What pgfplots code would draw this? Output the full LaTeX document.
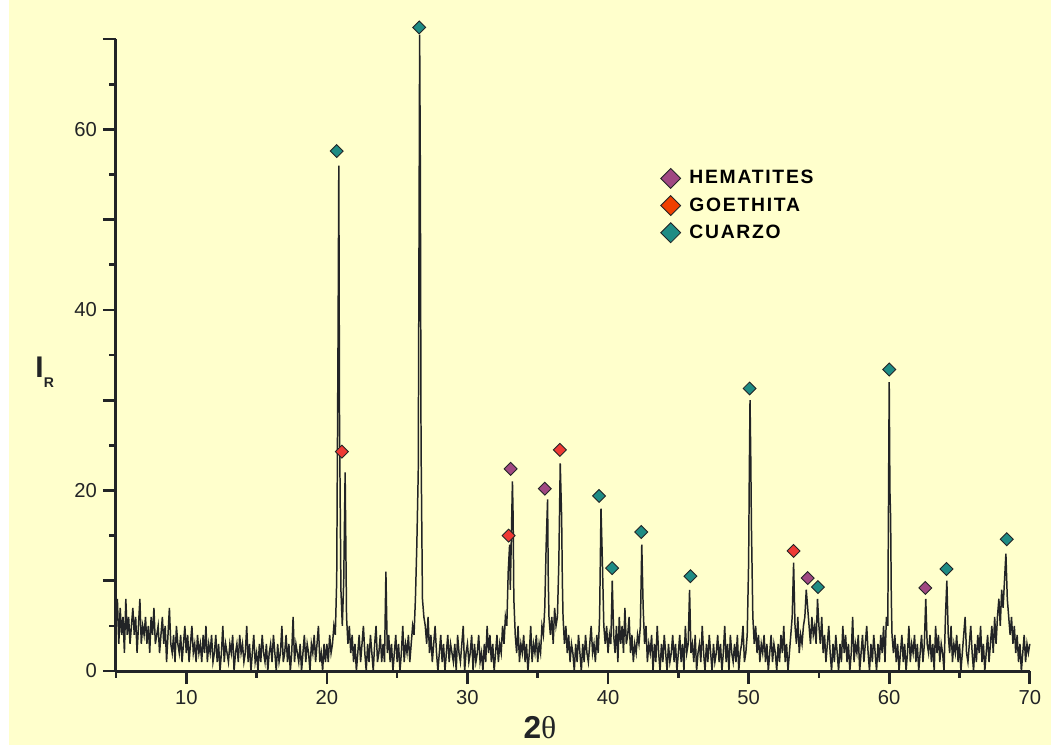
\documentclass[border=0pt]{standalone}
\usepackage{pgfplots}
\pgfplotsset{compat=1.18}
\usepackage{fontspec}
\setmainfont{Liberation Sans}
\newfontfamily\symf{Liberation Serif}
\definecolor{bgyel}{RGB}{255,255,204}
\definecolor{hem}{RGB}{160,72,130}
\definecolor{goe}{RGB}{238,58,52}
\definecolor{goeleg}{RGB}{240,64,0}
\definecolor{cua}{RGB}{30,140,132}
\definecolor{ink}{RGB}{34,36,38}

\begin{document}
\begin{tikzpicture}[x=0.02cm,y=0.02cm]
\fill[white] (0,0) rectangle (1051,749);
\fill[bgyel] (9,4) rectangle (1051,749);
\begin{axis}[
  at={(2.32cm,1.56cm)}, anchor=south west,
  scale only axis, width=18.28cm, height=12.64cm,
  xmin=5, xmax=70, ymin=0, ymax=70,
  axis x line=bottom, axis y line=left,
  axis line style={-, line width=1.7pt, ink},
  xtick={10,20,...,70}, minor xtick={5,15,...,65},
  ytick={0,10,...,70}, yticklabels={0,,20,,40,,60,},
  minor ytick={5,15,...,65},
  tick align=outside,
  major tick length=0.26cm, minor tick length=0.13cm,
  tick style={ink, line width=1.5pt},
  /pgf/number format/assume math mode=true,
  ticklabel style={font=\fontsize{11.5}{13}\selectfont, text=ink},
  xlabel={\textbf{2}{\symf θ}},
  xlabel style={at={(axis description cs:0.464,-0.09)}, anchor=center,
    font=\fontsize{18}{20}\selectfont, text=ink},
  ylabel={\textbf{I\raisebox{-0.6ex}{\fontsize{8}{8}\selectfont R}}},
  ylabel style={rotate=-90, at={(axis description cs:-0.078,0.473)}, anchor=center,
    font=\fontsize{17}{20}\selectfont, text=ink},
  clip=false,
  legend style={draw=none, fill=none, at={(axis description cs:0.59,0.804)},
    anchor=north west, row sep=0.08cm,
    font=\fontsize{11}{13}\selectfont\bfseries\addfontfeature{LetterSpace=9}},
  legend cell align=left,
]
\addplot[ink, line width=0.85pt, forget plot] coordinates {
(5.0,5)(5.1,8)(5.2,3)(5.3,7)(5.4,4)(5.5,6)(5.6,2)(5.7,8)(5.8,4)(5.9,6)
(6.0,3)(6.1,5)(6.2,7)(6.3,4)(6.4,6)(6.5,2)(6.6,5)(6.7,8)(6.8,3)(6.9,5)
(7.0,4)(7.1,6)(7.2,3)(7.3,5)(7.4,2)(7.5,6)(7.6,4)(7.7,7)(7.8,3)(7.9,4)
(8.0,5)(8.1,2)(8.2,4)(8.3,6)(8.4,3)(8.5,5)(8.6,1)(8.7,4)(8.8,7)(8.9,3)
(9.0,2)(9.1,4)(9.2,1)(9.3,5)(9.4,3)(9.5,2)(9.6,4)(9.7,1)(9.8,3)(9.9,5)
(10.0,2)(10.1,4)(10.2,1)(10.3,3)(10.4,5)(10.5,2)(10.6,3)(10.7,1)(10.8,4)(10.9,2)
(11.0,3)(11.1,1)(11.2,4)(11.3,2)(11.4,5)(11.5,1)(11.6,3)(11.7,2)(11.8,4)(11.9,1)
(12.0,2)(12.1,4)(12.2,1)(12.3,3)(12.4,0)(12.5,2)(12.6,5)(12.7,1)(12.8,3)(12.9,2)
(13.0,1)(13.1,3)(13.2,2)(13.3,4)(13.4,0)(13.5,2)(13.6,3)(13.7,1)(13.8,4)(13.9,2)
(14.0,3)(14.1,1)(14.2,2)(14.3,5)(14.4,1)(14.5,3)(14.6,0)(14.7,2)(14.8,4)(14.9,1)
(15.0,2)(15.1,0)(15.2,3)(15.3,1)(15.4,4)(15.5,2)(15.6,1)(15.7,3)(15.8,0)(15.9,2)
(16.0,3)(16.1,1)(16.2,4)(16.3,2)(16.4,0)(16.5,3)(16.6,1)(16.7,2)(16.8,5)(16.9,1)
(17.0,2)(17.1,4)(17.2,1)(17.3,3)(17.4,0)(17.5,2)(17.6,6)(17.7,1)(17.8,3)(17.9,2)
(18.0,1)(18.1,3)(18.2,0)(18.3,2)(18.4,4)(18.5,1)(18.6,3)(18.7,2)(18.8,0)(18.9,3)
(19.0,2)(19.1,4)(19.2,1)(19.3,3)(19.4,5)(19.5,1)(19.6,2)(19.7,0)(19.8,3)(19.9,1)
(20.0,3)(20.1,1)(20.2,4)(20.3,2)(20.4,3)(20.5,5)(20.6,4)(20.7,10)(20.8,38)(20.85,56)(20.9,28)
(21.0,9)(21.1,5)(21.2,10)(21.3,22)(21.35,14)(21.4,6)(21.5,3)(21.6,5)(21.7,2)(21.8,4)(21.9,1)
(22.0,3)(22.1,0)(22.2,2)(22.3,4)(22.4,1)(22.5,3)(22.6,5)(22.7,2)(22.8,0)(22.9,3)
(23.0,1)(23.1,4)(23.2,2)(23.3,0)(23.4,3)(23.5,5)(23.6,1)(23.7,2)(23.8,4)(23.9,1)
(24.0,3)(24.1,1)(24.2,11)(24.3,2)(24.4,4)(24.5,1)(24.6,3)(24.7,0)(24.8,2)(24.9,4)
(25.0,1)(25.1,3)(25.2,0)(25.3,2)(25.4,5)(25.5,1)(25.6,3)(25.7,2)(25.8,4)(25.9,1)
(26.0,3)(26.1,5)(26.2,4)(26.3,8)(26.4,14)(26.5,22)(26.55,45)(26.6,70.5)(26.65,55)(26.7,25)(26.8,8)(26.9,6)
(27.0,5)(27.1,3)(27.2,6)(27.3,2)(27.4,4)(27.5,1)(27.6,3)(27.7,5)(27.8,2)(27.9,0)
(28.0,2)(28.1,4)(28.2,1)(28.3,3)(28.4,0)(28.5,2)(28.6,4)(28.7,1)(28.8,3)(28.9,2)
(29.0,1)(29.1,3)(29.2,0)(29.3,4)(29.4,2)(29.5,1)(29.6,3)(29.7,5)(29.8,0)(29.9,2)
(30.0,3)(30.1,1)(30.2,2)(30.3,4)(30.4,0)(30.5,3)(30.6,1)(30.7,2)(30.8,4)(30.9,1)
(31.0,2)(31.1,0)(31.2,3)(31.3,1)(31.4,5)(31.5,2)(31.6,4)(31.7,1)(31.8,3)(31.9,0)
(32.0,2)(32.1,4)(32.2,1)(32.3,3)(32.4,2)(32.5,5)(32.6,3)(32.7,6)(32.8,5)(32.9,11)
(33.0,14)(33.05,9)(33.1,13)(33.2,21)(33.25,17)(33.3,8)(33.4,4)(33.5,2)(33.6,5)(33.7,1)(33.8,3)(33.9,2)
(34.0,4)(34.1,1)(34.2,3)(34.3,0)(34.4,2)(34.5,5)(34.6,1)(34.7,3)(34.8,2)(34.9,4)
(35.0,1)(35.1,3)(35.2,2)(35.3,5)(35.4,4)(35.5,7)(35.6,14)(35.7,19)(35.75,10)(35.8,6)(35.9,4)
(36.0,6)(36.1,3)(36.2,7)(36.3,5)(36.4,6)(36.5,12)(36.6,23)(36.7,17)(36.75,10)(36.8,6)(36.9,3)
(37.0,5)(37.1,2)(37.2,4)(37.3,1)(37.4,3)(37.5,2)(37.6,0)(37.7,3)(37.8,1)(37.9,4)
(38.0,2)(38.1,0)(38.2,3)(38.3,1)(38.4,4)(38.5,2)(38.6,1)(38.7,3)(38.8,5)(38.9,2)
(39.0,3)(39.1,1)(39.2,4)(39.3,2)(39.4,6)(39.5,18)(39.6,12)(39.7,5)(39.8,3)(39.9,5)
(40.0,2)(40.1,4)(40.2,3)(40.3,10)(40.4,4)(40.5,2)(40.6,5)(40.7,1)(40.8,6)(40.9,3)
(41.0,5)(41.1,2)(41.2,7)(41.3,3)(41.4,4)(41.5,6)(41.6,2)(41.7,4)(41.8,1)(41.9,3)
(42.0,2)(42.1,4)(42.2,3)(42.3,5)(42.4,14)(42.5,7)(42.6,3)(42.7,5)(42.8,1)(42.9,3)
(43.0,2)(43.1,4)(43.2,0)(43.3,3)(43.4,1)(43.5,5)(43.6,2)(43.7,0)(43.8,3)(43.9,1)
(44.0,4)(44.1,2)(44.2,0)(44.3,3)(44.4,1)(44.5,2)(44.6,4)(44.7,1)(44.8,3)(44.9,0)
(45.0,2)(45.1,4)(45.2,1)(45.3,3)(45.4,0)(45.5,5)(45.6,2)(45.7,3)(45.8,9)(45.9,2)
(46.0,3)(46.1,1)(46.2,4)(46.3,0)(46.4,2)(46.5,3)(46.6,1)(46.7,5)(46.8,2)(46.9,0)
(47.0,3)(47.1,1)(47.2,4)(47.3,2)(47.4,0)(47.5,3)(47.6,1)(47.7,2)(47.8,4)(47.9,1)
(48.0,3)(48.1,0)(48.2,2)(48.3,5)(48.4,1)(48.5,3)(48.6,0)(48.7,4)(48.8,2)(48.9,1)
(49.0,3)(49.1,1)(49.2,4)(49.3,0)(49.4,2)(49.5,3)(49.6,5)(49.7,1)(49.8,2)(49.9,4)
(50.0,12)(50.05,22)(50.1,30)(50.15,24)(50.2,16)(50.3,6)(50.4,3)(50.5,5)(50.6,2)(50.7,4)(50.8,1)(50.9,3)
(51.0,2)(51.1,4)(51.2,1)(51.3,3)(51.4,0)(51.5,2)(51.6,4)(51.7,1)(51.8,3)(51.9,2)
(52.0,0)(52.1,3)(52.2,1)(52.3,4)(52.4,2)(52.5,5)(52.6,1)(52.7,3)(52.8,0)(52.9,2)
(53.0,4)(53.1,6)(53.2,12)(53.3,5)(53.4,3)(53.5,6)(53.6,2)(53.7,4)(53.8,3)(53.9,5)
(54.0,6)(54.1,9)(54.2,7)(54.3,5)(54.4,3)(54.5,6)(54.6,4)(54.7,5)(54.8,3)(54.9,8)
(55.0,5)(55.1,3)(55.2,6)(55.3,2)(55.4,4)(55.5,1)(55.6,3)(55.7,5)(55.8,2)(55.9,0)
(56.0,3)(56.1,1)(56.2,4)(56.3,2)(56.4,0)(56.5,3)(56.6,1)(56.7,5)(56.8,2)(56.9,4)
(57.0,1)(57.1,3)(57.2,0)(57.3,2)(57.4,6)(57.5,1)(57.6,3)(57.7,2)(57.8,4)(57.9,0)
(58.0,2)(58.1,4)(58.2,1)(58.3,3)(58.4,5)(58.5,2)(58.6,0)(58.7,3)(58.8,1)(58.9,4)
(59.0,2)(59.1,0)(59.2,3)(59.3,1)(59.4,4)(59.5,2)(59.6,5)(59.7,1)(59.8,6)(59.9,5)
(60.0,32)(60.05,20)(60.1,17)(60.15,8)(60.2,4)(60.3,2)(60.4,4)(60.5,1)(60.6,3)(60.7,0)(60.8,2)(60.9,4)
(61.0,1)(61.1,3)(61.2,0)(61.3,2)(61.4,5)(61.5,1)(61.6,3)(61.7,2)(61.8,4)(61.9,1)
(62.0,3)(62.1,0)(62.2,2)(62.3,4)(62.4,1)(62.5,3)(62.6,8)(62.7,3)(62.8,2)(62.9,4)
(63.0,1)(63.1,3)(63.2,0)(63.3,5)(63.4,2)(63.5,4)(63.6,1)(63.7,3)(63.8,2)(63.9,0)
(64.0,6)(64.1,10)(64.15,7)(64.2,4)(64.3,2)(64.4,5)(64.5,1)(64.6,3)(64.7,2)(64.8,4)(64.9,1)
(65.0,3)(65.1,0)(65.2,2)(65.3,4)(65.4,6)(65.5,2)(65.6,1)(65.7,3)(65.8,5)(65.9,2)
(66.0,0)(66.1,3)(66.2,1)(66.3,4)(66.4,2)(66.5,5)(66.6,1)(66.7,3)(66.8,0)(66.9,2)
(67.0,4)(67.1,1)(67.2,3)(67.3,5)(67.4,2)(67.5,6)(67.6,3)(67.7,6)(67.8,8)(67.9,5)
(68.0,9)(68.1,7)(68.2,10)(68.3,13)(68.4,8)(68.5,6)(68.6,4)(68.7,6)(68.8,3)(68.9,5)
(69.0,2)(69.1,4)(69.2,1)(69.3,3)(69.4,0)(69.5,2)(69.6,4)(69.7,1)(69.8,3)(69.9,2)
(70.0,3)
};
% cuarzo
\addplot[only marks, mark=square*, mark size=2.6pt,
  mark options={rotate=45, fill=cua, draw=ink, line width=0.5pt}, forget plot]
  coordinates {(20.7,57.6)(26.57,71.3)(39.36,19.4)(40.29,11.4)(42.36,15.4)
  (45.86,10.5)(50.07,31.3)(54.93,9.3)(60.0,33.4)(64.07,11.3)(68.36,14.6)};
% hematites
\addplot[only marks, mark=square*, mark size=2.6pt,
  mark options={rotate=45, fill=hem, draw=ink, line width=0.5pt}, forget plot]
  coordinates {(33.07,22.4)(35.5,20.2)(54.2,10.3)(62.57,9.2)};
% goethita
\addplot[only marks, mark=square*, mark size=2.6pt,
  mark options={rotate=45, fill=goe, draw=ink, line width=0.5pt}, forget plot]
  coordinates {(21.07,24.3)(32.93,15.0)(36.57,24.5)(53.2,13.3)};
\addlegendimage{only marks, mark=square*, mark size=4pt, mark options={rotate=45, fill=hem, draw=ink, line width=0.5pt}}
\addlegendentry{\hspace{3pt}HEMATITES}
\addlegendimage{only marks, mark=square*, mark size=4pt, mark options={rotate=45, fill=goeleg, draw=ink, line width=0.5pt}}
\addlegendentry{\hspace{3pt}GOETHITA}
\addlegendimage{only marks, mark=square*, mark size=4pt, mark options={rotate=45, fill=cua, draw=ink, line width=0.5pt}}
\addlegendentry{\hspace{3pt}CUARZO}
\end{axis}
\end{tikzpicture}
\end{document}
